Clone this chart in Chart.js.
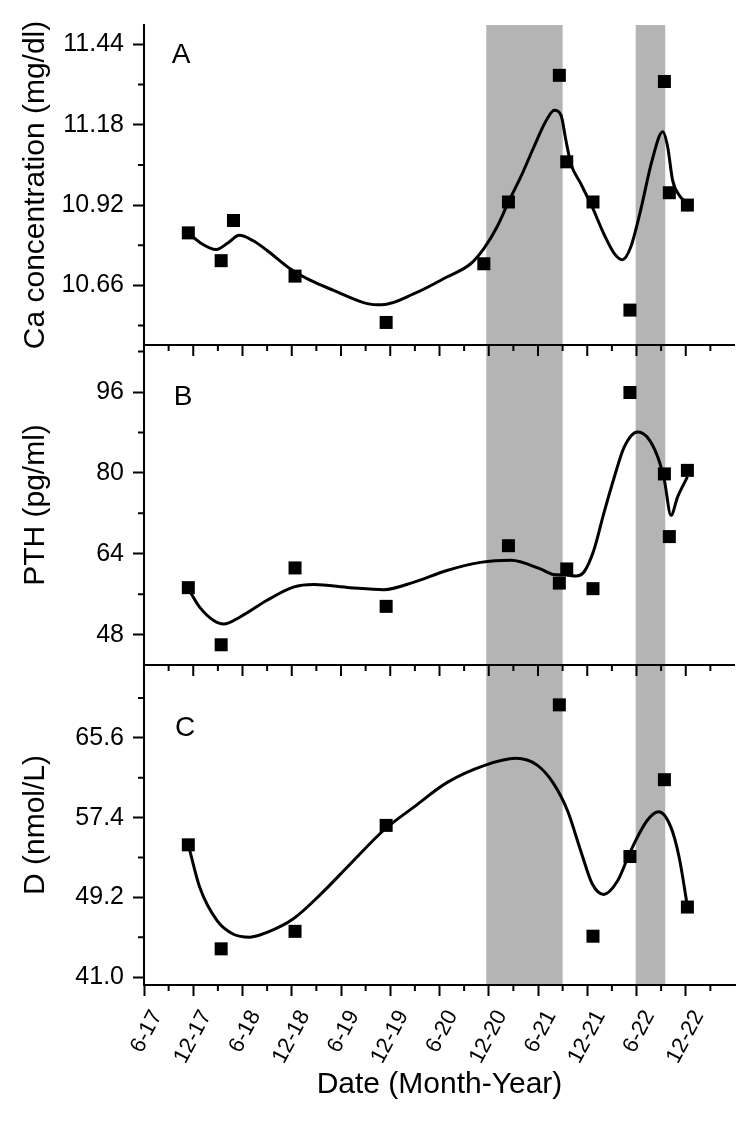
<!DOCTYPE html>
<html>
<head>
<meta charset="utf-8">
<script src="https://cdn.jsdelivr.net/npm/chart.js@4.4.1/dist/chart.umd.min.js"></script>
<style>
  html, body { margin: 0; padding: 0; background: #fff; }
</style>
</head>
<body>
<canvas id="chart" width="750" height="1122"></canvas>
<script>
// x values are months counted from Jan 2017 (6 = 6-17, 72 = 12-22)
const xTicks = [6, 12, 18, 24, 30, 36, 42, 48, 54, 60, 66, 72];
const xTickLabels = ['6-17', '12-17', '6-18', '12-18', '6-19', '12-19', '6-20', '12-20', '6-21', '12-21', '6-22', '12-22'];
const xMinor = [9, 15, 21, 27, 33, 39, 45, 51, 57, 63, 69, 75];

// shaded periods
const shadeStart = [47.7, 65.9];
const shadeEnd = [57.0, 69.5];

// panel A - Ca
const caMonths = [11.4, 15.4, 16.9, 24.4, 35.5, 47.4, 50.4, 56.6, 57.5, 60.7, 65.2, 69.4, 70.0, 72.2];
const caValues = [10.83, 10.74, 10.87, 10.69, 10.54, 10.73, 10.93, 11.34, 11.06, 10.93, 10.58, 11.32, 10.96, 10.92];
const caFitMonths = [11.4, 12.8, 14.8, 16.3, 17.6, 19.2, 21.0, 23.8, 26.3, 29.1, 33.2, 35.0, 38.9, 42.9, 45.8, 47.4, 49.0, 50.4, 51.9, 53.5, 54.9, 56.0, 56.8, 57.4, 58.0, 59.2, 60.6, 62.0, 63.3, 64.3, 65.3, 66.5, 67.9, 69.2, 69.8, 70.4, 71.2, 72.2];
const caFit = [10.830, 10.799, 10.776, 10.799, 10.822, 10.806, 10.773, 10.714, 10.676, 10.644, 10.601, 10.597, 10.633, 10.687, 10.730, 10.779, 10.849, 10.930, 11.011, 11.108, 11.189, 11.227, 11.211, 11.130, 11.054, 10.990, 10.914, 10.828, 10.763, 10.743, 10.784, 10.903, 11.065, 11.157, 11.108, 11.000, 10.952, 10.925];
const caTicks = [10.66, 10.92, 11.18, 11.44];
const caMinor = [10.53, 10.79, 11.05, 11.31];

// panel B - PTH
const pthMonths = [11.4, 15.4, 24.4, 35.5, 50.4, 56.6, 57.5, 60.7, 65.2, 69.4, 70.0, 72.2];
const pthValues = [57.3, 46.0, 61.2, 53.6, 65.6, 58.2, 61.0, 57.1, 95.9, 79.8, 67.4, 80.5];
const pthFitMonths = [11.4, 12.8, 14.5, 15.7, 17.7, 21.0, 24.2, 26.7, 31.1, 35.2, 38.9, 42.9, 47.0, 50.7, 54.3, 55.9, 57.4, 58.6, 59.6, 60.8, 62.0, 63.3, 64.5, 66.1, 67.3, 68.6, 69.4, 70.2, 71.0, 72.2];
const pthFit = [57.1, 53.4, 50.8, 50.1, 51.5, 54.8, 57.4, 57.9, 57.3, 56.9, 58.4, 60.7, 62.3, 62.7, 61.0, 59.9, 59.8, 59.6, 60.4, 64.7, 71.9, 79.2, 85.1, 88.1, 87.1, 83.1, 78.5, 71.6, 75.2, 79.2];
const pthTicks = [48, 64, 80, 96];
const pthMinor = [56, 72, 88, 104];

// panel C - D
const dMonths = [11.4, 15.4, 24.4, 35.5, 56.6, 60.7, 65.2, 69.4, 72.2];
const dValues = [54.6, 43.9, 45.7, 56.6, 69.0, 45.2, 53.4, 61.3, 48.2];
const dFitMonths = [11.4, 12.8, 14.9, 16.9, 18.9, 21.0, 24.2, 27.5, 31.1, 35.2, 38.9, 42.9, 47.6, 51.3, 53.9, 55.9, 57.6, 59.2, 60.6, 62.0, 63.7, 65.3, 67.3, 68.7, 70.2, 71.2, 72.2];
const dFit = [54.6, 50.2, 46.8, 45.4, 45.1, 45.6, 47.0, 49.5, 52.6, 56.1, 58.5, 61.0, 62.8, 63.5, 62.8, 60.9, 58.1, 54.0, 50.6, 49.5, 50.9, 54.0, 57.1, 58.0, 56.4, 53.3, 48.3];
const dTicks = [41.0, 49.2, 57.4, 65.6];
const dMinor = [45.1, 53.3, 61.5, 69.7];

const FONT = "'Liberation Sans', Arial, sans-serif";
Chart.defaults.font.family = FONT;
Chart.defaults.color = '#000';

const zip = (xs, ys) => xs.map((x, i) => ({x: x, y: ys[i]}));

const points = (data, axis) => ({
  data: data, yAxisID: axis, showLine: false,
  pointStyle: 'rect', pointRadius: 9.2, pointHoverRadius: 9.2,
  pointBackgroundColor: '#000', pointBorderWidth: 0
});
const curve = (data, axis) => ({
  data: data, yAxisID: axis, borderColor: '#000', borderWidth: 3,
  pointRadius: 0, cubicInterpolationMode: 'monotone', fill: false
});

const yAxis = (range, ticks, fmt, title, weight) => ({
  type: 'linear', position: 'left', stack: 'panels', stackWeight: 1, weight: weight,
  min: range[0], max: range[1],
  afterBuildTicks: s => { s.ticks = ticks.map(v => ({value: v})); },
  afterFit: s => { s.width = 144; },
  ticks: { callback: fmt, font: {size: 25}, padding: 9, color: '#000' },
  grid: { drawOnChartArea: false, tickLength: 11, tickWidth: 2, tickColor: '#000' },
  border: { color: '#000', width: 2 },
  title: { display: true, text: title, font: {size: 30}, color: '#000', padding: {top: 18, bottom: 0} }
});

const minorByAxis = { yA: caMinor, yB: pthMinor, yC: dMinor };
const letters = [
  { axis: 'yA', text: 'A', dx: 37, dy: 30 },
  { axis: 'yB', text: 'B', dx: 39, dy: 52 },
  { axis: 'yC', text: 'C', dx: 41, dy: 63 }
];

const panelPlugin = {
  id: 'panels',
  beforeDraw(chart) {
    const {ctx, chartArea, scales} = chart;
    ctx.save();
    ctx.fillStyle = '#b4b4b4';
    shadeStart.forEach((s, i) => {
      const x0 = scales.x.getPixelForValue(s);
      const x1 = scales.x.getPixelForValue(shadeEnd[i]);
      ctx.fillRect(x0, chartArea.top, x1 - x0, chartArea.bottom - chartArea.top);
    });
    ctx.restore();
  },
  afterDatasetsDraw(chart) {
    const {ctx, chartArea, scales} = chart;
    const x = scales.x;
    ctx.save();
    ctx.strokeStyle = '#000';
    ctx.lineWidth = 2;
    // lines between panels, ticks pointing down
    ['yA', 'yB', 'yC'].forEach(id => {
      const s = scales[id];
      const yb = s.bottom;
      if (yb < chartArea.bottom - 2) {
        ctx.beginPath();
        ctx.moveTo(chartArea.left - 1, yb);
        ctx.lineTo(chartArea.right, yb);
        xTicks.forEach(v => { const px = x.getPixelForValue(v); ctx.moveTo(px, yb); ctx.lineTo(px, yb + 11); });
        xMinor.forEach(v => { const px = x.getPixelForValue(v); ctx.moveTo(px, yb); ctx.lineTo(px, yb + 6); });
        ctx.stroke();
      }
      // minor y ticks
      ctx.beginPath();
      minorByAxis[id].forEach(v => {
        const py = s.getPixelForValue(v);
        ctx.moveTo(chartArea.left, py); ctx.lineTo(chartArea.left - 6, py);
      });
      ctx.stroke();
    });
    // minor ticks on the bottom axis
    ctx.beginPath();
    xMinor.forEach(v => { const px = x.getPixelForValue(v); ctx.moveTo(px, chartArea.bottom); ctx.lineTo(px, chartArea.bottom + 6); });
    ctx.stroke();
    // panel letters
    ctx.fillStyle = '#000';
    ctx.font = '28px ' + FONT;
    ctx.textAlign = 'center';
    ctx.textBaseline = 'middle';
    letters.forEach(l => ctx.fillText(l.text, chartArea.left + l.dx, scales[l.axis].top + l.dy));
    ctx.restore();
  }
};

new Chart(document.getElementById('chart'), {
  type: 'line',
  data: {
    datasets: [
      curve(zip(caFitMonths, caFit), 'yA'),
      points(zip(caMonths, caValues), 'yA'),
      curve(zip(pthFitMonths, pthFit), 'yB'),
      points(zip(pthMonths, pthValues), 'yB'),
      curve(zip(dFitMonths, dFit), 'yC'),
      points(zip(dMonths, dValues), 'yC')
    ]
  },
  options: {
    responsive: false,
    animation: false,
    devicePixelRatio: 1,
    layout: { padding: { left: 0, right: 15, top: 25, bottom: 0 } },
    plugins: { legend: { display: false }, tooltip: { enabled: false } },
    scales: {
      x: {
        type: 'linear', position: 'bottom', min: 6, max: 78,
        afterBuildTicks: s => { s.ticks = xTicks.map(v => ({value: v})); },
        afterFit: s => { s.height = 137; },
        ticks: {
          autoSkip: false, maxRotation: 62, minRotation: 62, padding: 10, labelOffset: 13,
          font: {size: 22}, color: '#000',
          callback: v => xTickLabels[xTicks.indexOf(v)]
        },
        grid: { drawOnChartArea: false, tickLength: 11, tickWidth: 2, tickColor: '#000' },
        border: { color: '#000', width: 2 },
        title: { display: true, text: 'Date (Month-Year)', font: {size: 30}, color: '#000', padding: {top: 0, bottom: 19} }
      },
      yA: yAxis([10.467, 11.503], caTicks, v => v.toFixed(2), 'Ca concentration (mg/dl)', 3),
      yB: yAxis([42.0, 105.3], pthTicks, v => String(v), 'PTH (pg/ml)', 2),
      yC: yAxis([40.18, 73.1], dTicks, v => v.toFixed(1), 'D (nmol/L)', 1)
    }
  },
  plugins: [panelPlugin]
});
</script>
</body>
</html>
